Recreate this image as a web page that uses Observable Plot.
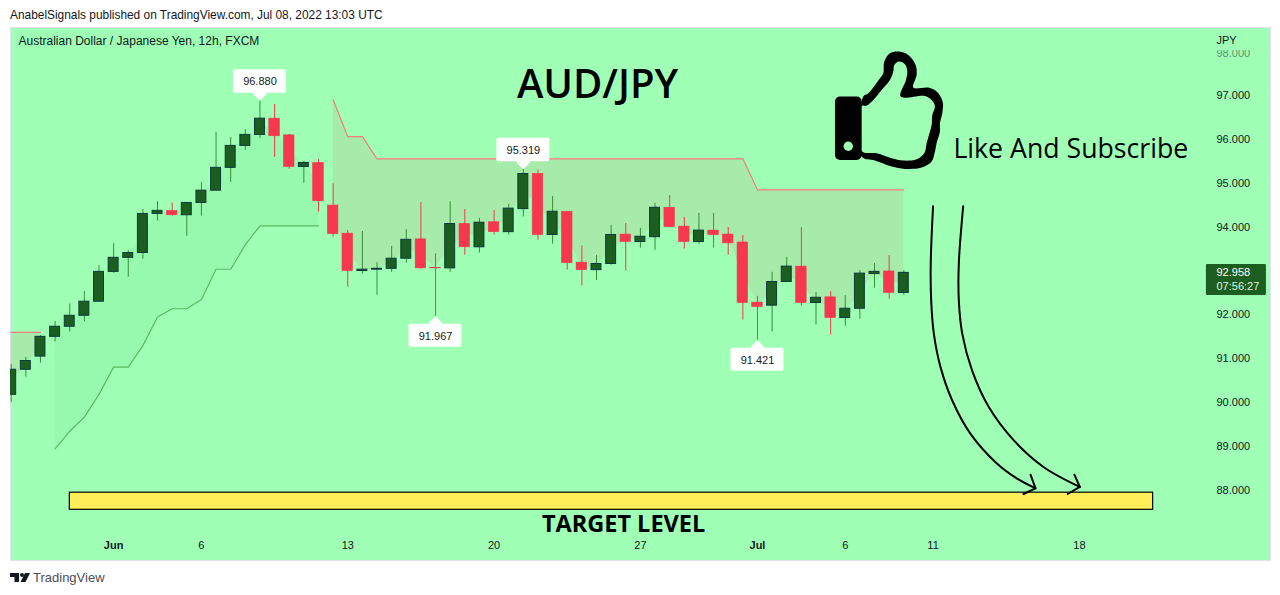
<!DOCTYPE html>
<html>
<head>
<meta charset="utf-8">
<script src="https://cdn.jsdelivr.net/npm/d3@7"></script>
<script src="https://cdn.jsdelivr.net/npm/@observablehq/plot@0.6"></script>
<style>
html,body{margin:0;padding:0;background:#fff;width:1280px;height:595px;overflow:hidden}
#top{height:27px;padding-left:10px;font:11.9px/30px "Liberation Sans",sans-serif;color:#131722;box-sizing:border-box}
#chart svg{display:block;overflow:visible}
#foot{position:absolute;left:10px;top:569px;height:16px;display:flex;align-items:center;font:13px "Liberation Sans",sans-serif;color:#4a4e5a}
#foot svg{margin-right:3px}
</style>
</head>
<body>
<div id="top">AnabelSignals published on TradingView.com, Jul 08, 2022 13:03 UTC</div>
<div id="chart"></div>
<div id="foot"><svg width="20" height="11" viewBox="0 0 20 11"><path fill="#131722" d="M0 1h9v9H4.5V5H0z"/><circle cx="12" cy="3" r="2" fill="#131722"/><path fill="#131722" d="M15 1h5l-4.5 9h-5z"/></svg>TradingView</div>
<script>
const opens  = [90.18,90.75,91.05,91.50,91.73,91.98,92.30,92.98,93.30,93.41,94.30,94.37,94.27,94.55,94.83,95.35,95.85,96.10,96.47,96.09,95.37,95.46,94.49,93.85,93.00,93.03,93.05,93.28,93.72,93.07,93.06,94.07,93.54,94.11,93.885,94.41,95.21,93.82,94.35,93.19,93.02,93.16,93.83,93.66,93.77,94.44,94.01,93.66,93.92,93.83,93.65,92.28,92.21,92.75,93.10,92.27,92.40,91.93,92.14,92.93,92.99,92.50];
const closes = [90.75,90.95,91.50,91.73,91.98,92.30,92.98,93.30,93.41,94.30,94.37,94.27,94.55,94.83,95.35,95.85,96.10,96.47,96.07,95.37,95.46,94.59,93.84,93.00,93.03,93.05,93.28,93.71,93.06,93.06,94.07,93.54,94.10,93.885,94.42,95.21,93.82,94.35,93.18,93.02,93.16,93.82,93.66,93.78,94.44,94.00,93.66,93.92,93.82,93.63,92.27,92.18,92.75,93.10,92.27,92.39,91.93,92.14,92.94,92.98,92.50,92.958];
const highs  = [90.87,91.03,91.53,91.85,92.25,92.53,93.12,93.62,93.47,94.40,94.58,94.55,94.55,95.01,96.16,96.04,96.22,96.88,96.79,96.11,95.50,95.54,94.99,93.92,93.90,93.19,93.56,93.94,94.56,93.39,94.58,94.40,94.20,94.38,94.52,95.319,95.30,94.70,94.35,93.57,93.35,94.04,94.08,93.97,94.54,94.72,94.22,94.31,94.31,93.99,93.81,92.42,92.97,93.31,93.99,92.51,92.53,92.44,93.01,93.17,93.35,93.01];
const lows   = [90.00,90.58,90.90,91.38,91.61,91.84,92.30,92.95,92.86,93.27,94.14,94.25,93.79,94.25,94.83,95.02,95.75,96.02,95.59,95.32,95.00,94.34,93.77,92.63,92.93,92.45,92.97,93.18,93.04,91.967,92.97,93.36,93.41,93.82,93.82,94.23,93.70,93.61,93.02,92.66,92.78,93.13,93.00,93.52,93.47,94.00,93.50,93.61,93.52,93.36,91.88,91.421,91.61,92.75,92.20,91.77,91.54,91.74,91.90,92.61,92.36,92.45];
const upperFirst  = [91.60,91.60,91.60];
const upperSecond = [96.90,96.06,96.06,95.556,95.556,95.556,95.556,95.556,95.556,95.556,95.556,95.556,95.556,95.556,95.556,95.556,95.556,95.556,95.556,95.556,95.556,95.556,95.556,95.556,95.556,95.556,95.556,95.556,95.556,94.85,94.85,94.85,94.85,94.85,94.85,94.85,94.85,94.85,94.85,94.85];
const lowerBand   = [88.95,89.35,89.67,90.19,90.81,90.81,91.30,91.95,92.14,92.14,92.35,93.04,93.04,93.60,94.03,94.03,94.03,94.03,94.03];
const yTicks = [88,89,90,91,92,94,95,96,97];
const dayTicks = [13,23,33,43,57,63,73];
const dayLabels = ["6","13","20","27","6","11","18"];
const monthTicks = [7,51];
const monthLabels = ["Jun","Jul"];
const callouts = [
  {i:17, p:96.880, side:"top"},
  {i:35, p:95.319, side:"top"},
  {i:29, p:91.967, side:"bottom"},
  {i:51, p:91.421, side:"bottom"}
];
const arrowOneX = [63.0,62.84,62.87,63.05,63.51,64.31,65.56,67.38,68.75,70.0];
const arrowOneY = [94.476,93.17,92.33,91.58,90.81,90.05,89.29,88.61,88.27,88.05];
const arrowTwoX = [65.06,64.76,64.76,64.99,65.67,66.81,68.52,70.57,73.03];
const arrowTwoY = [94.476,93.17,92.33,91.58,90.73,89.90,89.14,88.53,88.08];
const headOneX = [69.66,70.0,69.18], headOneY = [88.36,88.05,87.92];
const headTwoX = [72.66,73.03,72.2],  headTwoY = [88.36,88.08,87.92];

const BG="#9effb5", UP="#1b5e20", UPB="#0d3b3a", UPW="#388e3c", DN="#f7374d", TXT="#131722";
const FONT='"Liberation Sans",sans-serif', HEAD='"Open Sans",sans-serif';

const rows = opens.map((o,i)=>({i,o,c:closes[i],h:highs[i],l:lows[i],mid:(o+closes[i])/2,up:closes[i]>=o}));
const seg = (start,vals)=>vals.map((b,k)=>({i:start+k,b,mid:rows[start+k].mid}));
const up1=seg(0,upperFirst), up2=seg(22,upperSecond), lo=seg(3,lowerBand);
const pts=(xs,ys)=>xs.map((x,k)=>({x,y:ys[k]}));
const upRows=rows.filter(d=>d.up), dnRows=rows.filter(d=>!d.up);
const tops=callouts.filter(d=>d.side==="top"), bots=callouts.filter(d=>d.side==="bottom");
const fmt=d3.format(".3f");

// Thumb-up icon, a glyph anchored at a chart position through the scales
function thumb(index,{x,y}){
  const outer=[[115,155],[130,145],[165,100],[175,85],[178,50],[195,25],[220,20],[250,30],[272,60],[275,90],[265,128],[310,128],[335,140],[353,170],[352,205],[345,235],[345,260],[335,295],[330,320],[320,350],[290,368],[240,372],[200,365],[150,347],[110,335]];
  const inner=[[110,183],[125,182],[145,165],[170,135],[195,105],[205,80],[208,60],[222,50],[240,58],[247,80],[243,105],[227,155],[300,153],[320,165],[330,185],[322,210],[320,240],[312,270],[305,295],[298,325],[275,343],[235,347],[200,340],[155,325],[110,318]];
  const u=p=>p.map(([a,b])=>[a/3-10,b/3-50]);
  const g=d3.create("svg:g").attr("transform",`translate(${x(56.33)},${y(97)})`);
  const line=d3.line().curve(d3.curveCatmullRomClosed);
  g.append("path").attr("d",line(u(outer))+line(u(inner))).attr("fill","#000").attr("fill-rule","evenodd");
  g.append("rect").attr("x",0).attr("y",1.7).attr("width",26.7).attr("height",63.3).attr("rx",5).attr("fill","#000");
  g.append("circle").attr("cx",13.3).attr("cy",51.3).attr("r",4.7).attr("fill",BG);
  return g.node();
}

const chart = Plot.plot({
  width:1280, height:533,
  marginLeft:10, marginRight:10, marginTop:0, marginBottom:0,
  style:{background:"#fff",fontFamily:FONT,fontSize:"11px",color:TXT},
  x:{type:"linear",domain:[-0.048,86.06],axis:null},
  y:{type:"linear",domain:[86.405,98.547],axis:null},
  marks:[
    Plot.frame({fill:BG,stroke:"#e0e3eb"}),
    // clouds
    Plot.areaY(up1,{x:"i",y1:"b",y2:"mid",fill:"#f23645",fillOpacity:.1,clip:true}),
    Plot.areaY(up2,{x:"i",y1:"b",y2:"mid",fill:"#f23645",fillOpacity:.1,clip:true}),
    Plot.areaY(lo,{x:"i",y1:"b",y2:"mid",fill:"#4caf50",fillOpacity:.07,clip:true}),
    Plot.line(up1,{x:"i",y:"b",stroke:"#f77c80",strokeWidth:1.2,clip:true}),
    Plot.line(up2,{x:"i",y:"b",stroke:"#f77c80",strokeWidth:1.2,clip:true}),
    Plot.line(lo,{x:"i",y:"b",stroke:"#5cb860",strokeWidth:1.2,clip:true}),
    // candles
    Plot.ruleX(upRows,{x:"i",y1:"l",y2:"h",stroke:UPW,strokeWidth:1,clip:true}),
    Plot.ruleX(dnRows,{x:"i",y1:"l",y2:"h",stroke:DN,strokeWidth:1,clip:true}),
    Plot.rect(upRows,{x1:d=>d.i-.34,x2:d=>d.i+.34,y1:"o",y2:"c",fill:UP,stroke:UPB,strokeWidth:1,clip:true}),
    Plot.rect(dnRows,{x1:d=>d.i-.36,x2:d=>d.i+.36,y1:"o",y2:"c",fill:DN,stroke:DN,strokeWidth:.6,clip:true}),
    // target zone and arrows
    Plot.rect([{a:4.005,b:78.04,p:87.95,q:87.56}],{x1:"a",x2:"b",y1:"p",y2:"q",fill:"#ffee58",stroke:"#000",strokeWidth:1.2}),
    Plot.line(pts(arrowOneX,arrowOneY),{x:"x",y:"y",curve:"catmull-rom",stroke:"#000",strokeWidth:2}),
    Plot.line(pts(arrowTwoX,arrowTwoY),{x:"x",y:"y",curve:"catmull-rom",stroke:"#000",strokeWidth:2}),
    Plot.line(pts(headOneX,headOneY),{x:"x",y:"y",stroke:"#000",strokeWidth:2}),
    Plot.line(pts(headTwoX,headTwoY),{x:"x",y:"y",stroke:"#000",strokeWidth:2}),
    // axes
    Plot.axisY({ticks:yTicks,anchor:"right",tickSize:0,tickPadding:-54,tickFormat:fmt,fontSize:11,fill:TXT,label:null}),
    Plot.axisX({ticks:dayTicks,anchor:"bottom",tickSize:0,tickPadding:-19,tickFormat:d=>dayLabels[dayTicks.indexOf(d)],fontSize:11,fill:TXT,label:null}),
    Plot.axisX({ticks:monthTicks,anchor:"bottom",tickSize:0,tickPadding:-19,tickFormat:d=>monthLabels[monthTicks.indexOf(d)],fontSize:11,fontWeight:"bold",fill:TXT,label:null}),
    Plot.text(["98.000"],{x:82.37,y:98,dy:1.5,text:d=>d,textAnchor:"start",fontSize:11,fill:TXT,fillOpacity:.5}),
    Plot.rect([0],{x1:81.5,x2:85.9,y1:98.02,y2:98.5,fill:BG}),
    Plot.text(["JPY"],{x:82.37,y:98.228,dy:-1,text:d=>d,textAnchor:"start",fontSize:11,fill:TXT}),
    // last price
    Plot.rect([0],{x1:81.68,x2:85.78,y1:92.44,y2:93.15,fill:UP,rx:1}),
    Plot.text([closes[closes.length-1]],{x:82.37,y:d=>d,text:fmt,textAnchor:"start",fontSize:11,fill:"#fff"}),
    Plot.text(["07:56:27"],{x:82.37,y:closes[closes.length-1],dy:14,text:d=>d,textAnchor:"start",fontSize:11,fill:"#dff5e0"}),
    // high / low callouts
    Plot.dot(tops,{x:"i",y:"p",dy:-7,symbol:"square",rotate:45,r:5.6,fill:"#fff"}),
    Plot.rect(tops,{x1:"i",x2:"i",y1:"p",y2:"p",insetLeft:-26.5,insetRight:-26.5,insetTop:-31,insetBottom:7.5,fill:"#fff",rx:2}),
    Plot.text(tops,{x:"i",y:"p",dy:-19,text:d=>fmt(d.p),fontSize:11,fill:TXT}),
    Plot.dot(bots,{x:"i",y:"p",dy:7,symbol:"square",rotate:45,r:5.6,fill:"#fff"}),
    Plot.rect(bots,{x1:"i",x2:"i",y1:"p",y2:"p",insetLeft:-26.5,insetRight:-26.5,insetTop:8,insetBottom:-31,fill:"#fff",rx:2}),
    Plot.text(bots,{x:"i",y:"p",dy:20,text:d=>fmt(d.p),fontSize:11,fill:TXT}),
    // annotations
    Plot.text(["Australian Dollar / Japanese Yen, 12h, FXCM"],{frameAnchor:"top-left",dx:8,dy:9,text:d=>d,fontSize:12,fill:TXT}),
    Plot.text(["AUD/JPY"],{x:40.07,y:97.225,text:d=>d,fontSize:40,fontWeight:600,fontFamily:HEAD,fill:"#000"}),
    Plot.text(["Like And Subscribe"],{x:64.39,y:95.77,text:d=>d,textAnchor:"start",fontSize:26.7,fontFamily:HEAD,fill:"#000"}),
    Plot.text(["TARGET LEVEL"],{x:41.85,y:87.225,text:d=>d,fontSize:23.5,fontWeight:700,fontFamily:HEAD,fill:"#000"}),
    thumb
  ]
});
document.getElementById("chart").appendChild(chart);
</script>
</body>
</html>
